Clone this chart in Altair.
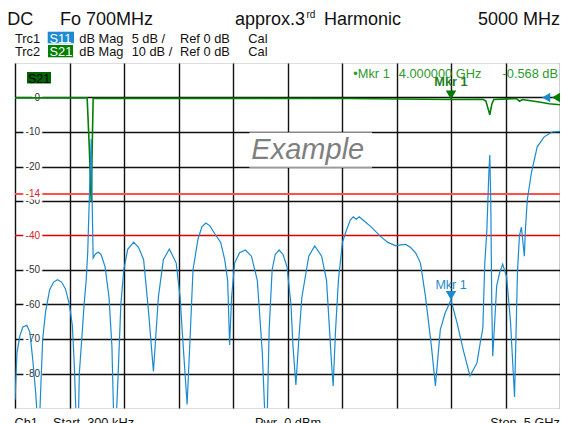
import altair as alt
import pandas as pd

FONT = "Liberation Sans"

# ---------------- data ----------------
# S11 trace (values in the displayed grid scale, 10 dB per division)
s11_freq_mhz = [0.3, 18, 45, 73, 109, 136, 163, 191, 209, 227, 254, 281, 318, 354, 390, 427, 463, 499,
                526, 544, 563, 581, 590, 617, 635, 653, 667, 681, 699, 708, 717, 735, 762, 789, 826, 862,
                889, 907, 926, 944, 971, 998, 1034, 1089, 1134, 1180, 1225, 1270, 1316, 1361, 1416, 1479,
                1515, 1543, 1579, 1606, 1633, 1679, 1715, 1751, 1788, 1833, 1887, 1924, 1951, 1969, 1987,
                2015, 2060, 2114, 2169, 2223, 2269, 2296, 2314, 2332, 2359, 2387, 2423, 2459, 2495, 2532,
                2550, 2577, 2604, 2632, 2695, 2750, 2813, 2858, 2904, 2919, 2940, 2967, 3004, 3040, 3076,
                3103, 3131, 3158, 3212, 3267, 3358, 3421, 3494, 3539, 3584, 3630, 3675, 3720, 3766, 3820,
                3857, 3902, 3947, 4000, 4056, 4111, 4174, 4238, 4274, 4292, 4310, 4329, 4347, 4356, 4365,
                4374, 4383, 4401, 4419, 4447, 4474, 4510, 4546, 4583, 4610, 4628, 4646, 4673, 4683, 4700,
                4737, 4791, 4855, 4927, 5000]
s11_db = [-87.6, -74, -69, -66.5, -66, -68, -76, -86, -95, -92, -70, -62, -55.7, -53.5, -52.8, -53.5, -55.5, -60,
          -66, -77.5, -95, -95, -80, -68, -59.6, -53, -45, -30, -12, -30, -46.5, -45.5, -44.8, -45.5, -49, -57.8,
          -72, -95, -95, -82, -60, -50, -44, -41.9, -43.5, -47, -62, -79.4, -57.7, -47, -43.9, -48,
          -58, -72, -89, -70, -50, -41, -37.5, -36.4, -37.2, -39.5, -42, -47, -53, -71.7, -58,
          -48, -45, -44.2, -46, -53, -74, -95, -92, -67, -50, -45.5, -44.2, -45.5, -49, -60,
          -72, -83.3, -70, -57.9, -46, -43, -46, -53, -77, -83.6, -68, -53, -42, -38.5, -35.5,
          -34.6, -35.3, -34.6, -36, -37.5, -40.4, -42, -43, -42.7, -42.6, -43.5, -45, -48, -57.7, -72,
          -83.6, -67.3, -62.4, -58.7, -65.4, -73, -80.7, -77, -70, -67, -48, -38.5, -22, -16.7, -30,
          -60, -75, -65, -54.6, -50.7, -48.3, -52, -65, -86.8, -50.3, -40, -37.6, -46, -38, -29.7,
          -21.9, -14.3, -11.4, -10, -9.8]

# S21 trace
s21_freq_mhz = [0.3, 662, 681, 699, 708, 717, 3058, 4000, 4292, 4320, 4338, 4356, 4374, 4392, 4601, 4628,
                4655, 4700, 4810, 4900, 5000]
s21_db = [-0.1, -0.1, -14, -30, -15, -0.2, -0.3, -0.568, -0.5, -1, -3, -5, -2, -0.6, -0.3, -1.1,
          -0.6, -0.8, -1.3, -1.8, -2.1]

grid_values = [0, -10, -20, -30, -50, -60, -70, -80]
grid_label_values = [0, -10, -20, -30, -50, -60, -70, -80]
limit_positions = [-28, -40]
limit_labels = ["-14", "-40"]

marker_freq_ghz = 4.0
marker_s21_db = -0.568
marker_s11_display = -58.7

header_texts = ["DC", "Fo 700MHz", "approx.3", "rd", "Harmonic", "5000 MHz"]
trc1_texts = ["Trc1", "S11", "dB Mag", "5 dB /", "Ref 0 dB", "Cal"]
trc2_texts = ["Trc2", "S21", "dB Mag", "10 dB /", "Ref 0 dB", "Cal"]
footer_texts = ["Ch1", "Start\u00a0\u00a0300 kHz", "Pwr\u00a0\u00a00 dBm", "Stop\u00a0\u00a05 GHz"]

# ---------------- styling ----------------
S11_COLOR = "#1b8bd0"
S21_COLOR = "#008000"
MKR_GREEN = "#2e9b2e"
W, H = 545, 345
K = W / 551.0  # horizontal factor for in-plot annotations


def px(v):
    return v * K


xs = alt.Scale(domain=[0, 5000], nice=False, zero=False)
ys = alt.Scale(domain=[-90, 10], nice=False, zero=False)
xaxis = alt.Axis(values=list(range(0, 5001, 500)), labels=False, ticks=False, domain=False,
                 title=None, grid=True, gridColor="#111111", gridWidth=1.4)
yaxis = alt.Axis(values=grid_values, labels=False, ticks=False, domain=False,
                 title=None, grid=True, gridColor="#111111", gridWidth=1.4)

X = alt.X("f:Q", scale=xs, axis=xaxis)
Y = alt.Y("db:Q", scale=ys, axis=yaxis)

s11_df = pd.DataFrame({"f": s11_freq_mhz, "db": s11_db})
s21_df = pd.DataFrame({"f": s21_freq_mhz, "db": s21_db})

s11_line = alt.Chart(s11_df).mark_line(color=S11_COLOR, strokeWidth=1.2, clip=True).encode(x=X, y=Y)
s21_line = alt.Chart(s21_df).mark_line(color=S21_COLOR, strokeWidth=1.6, clip=True).encode(x=X, y=Y)

lab_df = pd.DataFrame({"db": grid_label_values, "t": [str(v) for v in grid_label_values]})
lab_halo = alt.Chart(lab_df).mark_text(align="right", baseline="middle", font=FONT, fontSize=10,
                                       stroke="white", strokeWidth=5, color="white").encode(
    x=alt.value(25), y=Y, text="t:N")
lab_text = alt.Chart(lab_df).mark_text(align="right", baseline="middle", font=FONT, fontSize=10,
                                       color="#333333").encode(x=alt.value(25), y=Y, text="t:N")

lim_df = pd.DataFrame({"db": limit_positions, "t": limit_labels})
lim_rule14 = alt.Chart(lim_df.iloc[[0]]).mark_rule(color="#ff5050", strokeWidth=2).encode(y=Y)
lim_rule40 = alt.Chart(lim_df.iloc[[1]]).mark_rule(color="#e00000", strokeWidth=1.5).encode(y=Y)
lim_halo = alt.Chart(lim_df).mark_text(align="right", baseline="middle", font=FONT, fontSize=10,
                                       stroke="white", strokeWidth=5, color="white").encode(
    x=alt.value(25), y=Y, text="t:N")
lim_text = alt.Chart(lim_df).mark_text(align="right", baseline="middle", font=FONT, fontSize=10,
                                       color="#e02020").encode(x=alt.value(25), y=Y, text="t:N")


def txt(text, x, y, size=12.8, color="#111111", weight="normal", align="left", style="normal"):
    return alt.Chart(pd.DataFrame({"t": [text]})).mark_text(
        align=align, baseline="alphabetic", font=FONT, fontSize=size, color=color,
        fontWeight=weight, fontStyle=style).encode(x=alt.value(x), y=alt.value(y), text="t:N")


def box(x1, x2, y1, y2, color):
    return alt.Chart(pd.DataFrame({"a": [0]})).mark_rect(color=color).encode(
        x=alt.value(x1), x2=alt.value(x2), y=alt.value(y1), y2=alt.value(y2))


# watermark
wm_box = box(px(237), px(361), 69.5, 104, "white")
wm_line = alt.Chart(pd.DataFrame({"a": [0]})).mark_rule(color="#c8c8c8", strokeWidth=1.5).encode(
    x=alt.value(px(237)), x2=alt.value(px(361)), y=alt.value(104))
wm_text = txt("Example", px(296), 96, size=29, color="#7f7f7f", align="center", style="italic")

# S21 tag inside plot
s21_tag = box(12, 36, 9, 20.5, "#006400")
s21_tag_t = txt("S21", 13, 19.5, size=12.5, color="#000000")

# markers
mk_s21 = pd.DataFrame({"f": [marker_freq_ghz * 1000], "db": [marker_s21_db]})
mk_s11 = pd.DataFrame({"f": [marker_freq_ghz * 1000], "db": [marker_s11_display]})
mk21_sym = alt.Chart(mk_s21).mark_point(shape="triangle-down", filled=True, size=110, color="#007a00",
                                        opacity=1, yOffset=-4.5).encode(x=X, y=Y)
mk21_lab = alt.Chart(mk_s21).mark_text(text="Mkr 1", font=FONT, fontSize=12.8, fontWeight="bold",
                                       color="#1f7f1f", dy=-17, align="center").encode(x=X, y=Y)
mk11_sym = alt.Chart(mk_s11).mark_point(shape="triangle-down", filled=True, size=110, color=S11_COLOR,
                                        opacity=1, yOffset=-4.5).encode(x=X, y=Y)
mk11_lab = alt.Chart(mk_s11).mark_text(text="Mkr 1", font=FONT, fontSize=12.5,
                                       color=S11_COLOR, dy=-15, align="center").encode(x=X, y=Y)

ref_df = pd.DataFrame({"db": [0]})
ref_blue = alt.Chart(ref_df).mark_point(shape="triangle-left", filled=True, size=90, color=S11_COLOR,
                                        opacity=1).encode(x=alt.value(px(537)), y=Y)
ref_green = alt.Chart(ref_df).mark_point(shape="triangle-left", filled=True, size=90, color=S21_COLOR,
                                         opacity=1).encode(x=alt.value(px(547)), y=Y)

mk_info = [
    txt("\u2022Mkr 1", px(342), 14.5, color=MKR_GREEN),
    txt(f"{marker_freq_ghz:.6f} GHz", px(388), 14.5, color=MKR_GREEN),
    txt(f"{marker_s21_db:.3f} dB", W - 2, 14.5, color=MKR_GREEN, align="right"),
]

# header
hy = -38
header = [
    txt(header_texts[0], -7.7, hy, size=18),
    txt(header_texts[1], 45, hy, size=18),
    txt(header_texts[2], 220, hy, size=18),
    txt(header_texts[3], 291.5, hy - 7, size=10),
    txt(header_texts[4], 309, hy, size=18),
    txt(header_texts[5], W, hy, size=18, align="right"),
]
r1, r2 = -20.3, -7
row_x = [0, 34.5, 64.3, 116.7, 165, 233.3]
rows = [box(32.7, 59, -31.3, -19.7, "#1d8ad2"), box(33, 58, -18, -5.7, "#008000")]
for i, t in enumerate(trc1_texts):
    rows.append(txt(t, row_x[i], r1, color="white" if i == 1 else "#111111"))
for i, t in enumerate(trc2_texts):
    rows.append(txt(t, row_x[i], r2, color="white" if i == 1 else "#111111"))

fy = 363.5
footer = [
    txt(footer_texts[0], -0.6, fy),
    txt(footer_texts[1], 38, fy),
    txt(footer_texts[2], 240, fy),
    txt(footer_texts[3], W, fy, align="right"),
]

chart = alt.layer(
    lab_halo, lab_text, lim_rule14, lim_rule40, lim_halo, lim_text,
    wm_box, wm_line, wm_text, s21_tag, s21_tag_t,
    s21_line, s11_line,
    mk21_sym, mk21_lab, mk11_sym, mk11_lab, ref_blue, ref_green,
    *mk_info, *header, *rows, *footer,
).properties(
    width=W, height=H,
    autosize=alt.AutoSizeParams(type="none"),
    padding={"left": 7, "top": 55, "right": 0, "bottom": 15},
).configure_view(
    stroke="#111111", strokeWidth=1.5
).configure(background="white")

chart.save("out.html", embed_options={"renderer": "svg", "actions": False})
